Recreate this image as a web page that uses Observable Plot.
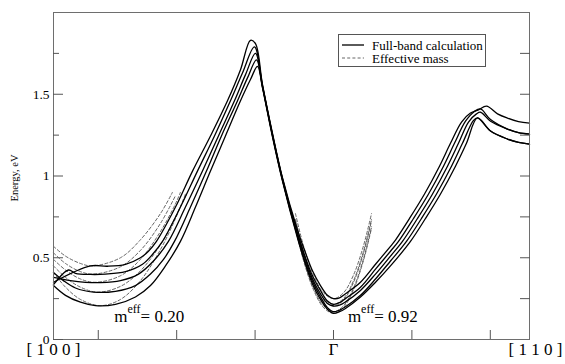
<!DOCTYPE html>
<html><head><meta charset="utf-8">
<script src="https://cdn.jsdelivr.net/npm/d3@7"></script>
<script src="https://cdn.jsdelivr.net/npm/@observablehq/plot@0.6"></script>
<style>
body{margin:0;background:#fff}
#chart svg text{font-family:"Liberation Serif","DejaVu Serif",serif}
</style>
</head><body><div id="chart"></div>
<script>
// wave vector k (tick units, Γ = 0); [100] end and [110] end
const kLeft = -3.571, kRight = 2.5;
const xTicks = [-3, -2, -1, 0, 1, 2];
const yMajor = [0, 0.5, 1, 1.5];
const yMinor = [0.25, 0.75, 1.25, 1.75];
const yRight = [0.25, 0.5, 0.75, 1, 1.25, 1.5, 1.75];
const dirPos = [kLeft, 0, kRight];
const dirLabels = ["[ 1 0 0 ]", "Γ", "[ 1 1 0 ]"];
const legendLabels = ["Full-band calculation", "Effective mass"];
const massValues = ["0.20", "0.92"];
const massAnnotK = [-2.79, 0.19];
const massAnnotE = 0.104;

// Full-band calculation, five subbands [k, E (eV)]
const band1 = [[-3.571,0.33],[-3.418,0.27],[-3.227,0.228],[-3.036,0.207],[-2.781,0.215],[-2.526,0.26],[-2.334,0.33],[-2.143,0.45],[-1.952,0.60],[-1.760,0.81],[-1.569,1.03],[-1.378,1.245],[-1.186,1.46],[-1.059,1.59],[-0.969,1.67],
  [-0.906,1.54],[-0.778,1.24],[-0.651,0.97],[-0.459,0.62],[-0.357,0.46],[-0.268,0.34],[-0.166,0.245],[-0.077,0.185],[0,0.16],[0.077,0.17],
  [0.153,0.19],[0.344,0.26],[0.536,0.35],[0.727,0.45],[0.982,0.60],[1.173,0.74],[1.365,0.89],[1.556,1.06],[1.696,1.20],[1.837,1.355],[2.003,1.275],[2.219,1.226],[2.360,1.205],[2.5,1.195]];
const band2 = [[-3.571,0.41],[-3.444,0.36],[-3.291,0.315],[-3.061,0.29],[-2.781,0.295],[-2.526,0.33],[-2.334,0.40],[-2.168,0.49],[-2.028,0.60],[-1.824,0.81],[-1.620,1.03],[-1.429,1.245],[-1.224,1.46],[-1.097,1.60],[-0.982,1.71],
  [-0.906,1.545],[-0.778,1.245],[-0.651,0.975],[-0.459,0.63],[-0.357,0.47],[-0.268,0.355],[-0.166,0.26],[-0.077,0.195],[0,0.17],[0.077,0.18],
  [0.153,0.20],[0.344,0.27],[0.536,0.37],[0.727,0.48],[0.931,0.60],[1.122,0.74],[1.314,0.89],[1.505,1.06],[1.645,1.20],[1.786,1.34],[1.837,1.355],[2.003,1.275],[2.219,1.226],[2.360,1.205],[2.5,1.195]];
const band3 = [[-3.571,0.38],[-3.355,0.36],[-3.163,0.35],[-2.972,0.348],[-2.717,0.36],[-2.487,0.40],[-2.296,0.48],[-2.105,0.60],[-1.888,0.81],[-1.671,1.03],[-1.467,1.245],[-1.263,1.46],[-1.122,1.62],[-0.995,1.75],
  [-0.906,1.55],[-0.778,1.25],[-0.651,0.98],[-0.459,0.64],[-0.357,0.49],[-0.268,0.37],[-0.166,0.28],[-0.077,0.22],[0,0.205],[0.077,0.21],
  [0.153,0.23],[0.344,0.30],[0.536,0.40],[0.727,0.51],[0.880,0.60],[1.071,0.74],[1.263,0.89],[1.454,1.06],[1.594,1.20],[1.722,1.33],[1.824,1.38],[1.875,1.39],[2.003,1.335],[2.219,1.287],[2.360,1.265],[2.5,1.256]];
const band4 = [[-3.571,0.335],[-3.380,0.425],[-3.291,0.405],[-3.099,0.398],[-2.908,0.40],[-2.653,0.415],[-2.436,0.46],[-2.309,0.52],[-2.181,0.60],[-1.952,0.81],[-1.735,1.03],[-1.518,1.245],[-1.314,1.46],[-1.161,1.63],[-1.008,1.79],
  [-0.906,1.555],[-0.778,1.255],[-0.651,0.985],[-0.459,0.65],[-0.357,0.50],[-0.268,0.39],[-0.166,0.30],[-0.077,0.235],[0,0.215],[0.077,0.225],
  [0.153,0.25],[0.344,0.32],[0.536,0.43],[0.727,0.54],[0.829,0.60],[1.020,0.74],[1.212,0.89],[1.403,1.06],[1.543,1.20],[1.684,1.335],[1.798,1.395],[1.875,1.41],[2.003,1.345],[2.219,1.287],[2.360,1.265],[2.5,1.256]];
const band5 = [[-3.571,0.35],[-3.099,0.45],[-2.883,0.448],[-2.653,0.46],[-2.462,0.50],[-2.360,0.54],[-2.258,0.60],[-2.015,0.81],[-1.798,1.03],[-1.569,1.245],[-1.352,1.46],[-1.186,1.65],[-1.059,1.83],[-0.995,1.81],
  [-0.906,1.56],[-0.778,1.26],[-0.651,0.99],[-0.459,0.67],[-0.357,0.53],[-0.268,0.42],[-0.166,0.33],[-0.077,0.27],[0,0.25],[0.077,0.255],
  [0.153,0.28],[0.344,0.35],[0.536,0.46],[0.727,0.57],[0.778,0.60],[0.969,0.74],[1.161,0.89],[1.352,1.06],[1.492,1.20],[1.633,1.33],[1.747,1.385],[1.849,1.405],[1.952,1.427],[2.092,1.38],[2.219,1.354],[2.360,1.333],[2.5,1.323]];

// Effective-mass parabolas near the [100] minimum (m_eff = 0.20)
const massX1 = [[-3.571,0.41],[-3.418,0.32],[-3.227,0.245],[-2.972,0.207],[-2.717,0.245],[-2.462,0.36],[-2.207,0.55],[-2.015,0.74],[-1.888,0.89]];
const massX2 = [[-3.571,0.45],[-3.418,0.38],[-3.227,0.32],[-3.010,0.29],[-2.717,0.325],[-2.462,0.42],[-2.207,0.58],[-2.015,0.75],[-1.875,0.89]];
const massX3 = [[-3.571,0.49],[-3.418,0.425],[-3.227,0.37],[-3.036,0.35],[-2.717,0.39],[-2.462,0.49],[-2.207,0.66],[-2.015,0.83],[-1.952,0.90]];
const massX4 = [[-3.571,0.53],[-3.418,0.465],[-3.227,0.415],[-3.061,0.40],[-2.717,0.445],[-2.462,0.545],[-2.207,0.71],[-2.015,0.88]];
const massX5 = [[-3.571,0.57],[-3.418,0.51],[-3.227,0.465],[-3.074,0.45],[-2.717,0.50],[-2.462,0.61],[-2.207,0.77],[-2.054,0.90]];
// Effective-mass parabolas near Γ (m_eff = 0.92)
const massG1 = [[-0.485,0.68],[-0.383,0.484],[-0.255,0.304],[-0.128,0.196],[0,0.16],[0.128,0.196],[0.255,0.304],[0.383,0.484],[0.485,0.68]];
const massG2 = [[-0.485,0.69],[-0.383,0.494],[-0.255,0.314],[-0.128,0.206],[0,0.17],[0.128,0.206],[0.255,0.314],[0.383,0.494],[0.485,0.69]];
const massG3 = [[-0.485,0.725],[-0.383,0.529],[-0.255,0.349],[-0.128,0.241],[0,0.205],[0.128,0.241],[0.255,0.349],[0.383,0.529],[0.485,0.725]];
const massG4 = [[-0.485,0.735],[-0.383,0.539],[-0.255,0.359],[-0.128,0.251],[0,0.215],[0.128,0.251],[0.255,0.359],[0.383,0.539],[0.485,0.735]];
const massG5 = [[-0.485,0.77],[-0.383,0.574],[-0.255,0.394],[-0.128,0.286],[0,0.25],[0.128,0.286],[0.255,0.394],[0.383,0.574],[0.485,0.77]];

const solidRows = [band1, band2, band3, band4, band5]
  .flatMap((b, i) => b.map(([k, E]) => ({k, E, s: "b" + i})));
const dashedRows = [massX1, massX2, massX3, massX4, massX5, massG1, massG2, massG3, massG4, massG5]
  .flatMap((b, i) => b.map(([k, E]) => ({k, E, s: "d" + i})));

const serif = "Liberation Serif";
const plot = Plot.plot({
  width: 565, height: 364,
  marginLeft: 53, marginRight: 36, marginTop: 12, marginBottom: 25,
  x: {domain: [kLeft, kRight]},
  y: {domain: [0, 2]},
  style: {fontFamily: serif, fontSize: "13px", background: "#fff", color: "#000"},
  marks: [
    Plot.line(dashedRows, {x: "k", y: "E", z: "s", stroke: "#555", strokeWidth: 0.9, strokeDasharray: "3,2.2", curve: "catmull-rom"}),
    Plot.line(solidRows, {x: "k", y: "E", z: "s", stroke: "#000", strokeWidth: 1.3, curve: "catmull-rom"}),
    Plot.frame({stroke: "#6e6e6e"}),
    Plot.axisY({ticks: yMajor, tickSize: -10, tickPadding: 14, tickFormat: d => String(d), fontSize: 13.5, fontFamily: serif, label: null, stroke: "#555"}),
    Plot.axisY({ticks: yMinor, tickSize: -6, tickFormat: () => "", label: null, stroke: "#555"}),
    Plot.axisY({anchor: "right", ticks: yRight, tickSize: -10, tickFormat: () => "", label: null, stroke: "#555"}),
    Plot.axisX({ticks: xTicks, tickSize: -9, tickFormat: () => "", label: null, stroke: "#555"}),
    Plot.text(dirPos.slice(0, 2), {x: d => d, frameAnchor: "bottom", text: (d, i) => dirLabels[i], dy: 3, lineAnchor: "top", fontSize: 17, fontFamily: serif}),
    Plot.text([kRight], {x: d => d, frameAnchor: "bottom", text: () => dirLabels[2], dy: 3, dx: 6, lineAnchor: "top", fontSize: 17, fontFamily: serif})
  ]
});
document.getElementById("chart").appendChild(plot);

const svg = d3.select(plot);
const xs = plot.scale("x"), ys = plot.scale("y");

// y-axis title
svg.append("text").attr("transform", "translate(18,178) rotate(-90)")
  .attr("text-anchor", "middle").attr("font-family", serif).attr("font-size", 10.5)
  .text("Energy, eV");

// effective-mass annotations
massValues.forEach((v, i) => {
  const t = svg.append("text")
    .attr("x", xs.apply(massAnnotK[i])).attr("y", ys.apply(massAnnotE))
    .attr("text-anchor", "start")
    .attr("font-family", serif).attr("font-size", 17);
  t.append("tspan").text("m");
  t.append("tspan").attr("dy", -9).attr("font-size", 12).text("eff");
  t.append("tspan").attr("dy", 9).attr("font-size", 17).text("= " + v);
});

// legend
const lg = svg.append("g").attr("font-family", serif).attr("font-size", 13).attr("text-anchor", "start");
lg.append("rect").attr("x", 338.5).attr("y", 34.5).attr("width", 147).attr("height", 32)
  .attr("fill", "#fff").attr("stroke", "#555");
legendLabels.forEach((lab, i) => {
  const yy = 45 + i * 13;
  lg.append("line").attr("x1", 342).attr("x2", 364).attr("y1", yy).attr("y2", yy)
    .attr("stroke", i ? "#555" : "#000").attr("stroke-width", i ? 0.9 : 1.3)
    .attr("stroke-dasharray", i ? "3,2.2" : null);
  lg.append("text").attr("x", 372).attr("y", yy + 4.5).text(lab);
});
</script>
</body></html>
